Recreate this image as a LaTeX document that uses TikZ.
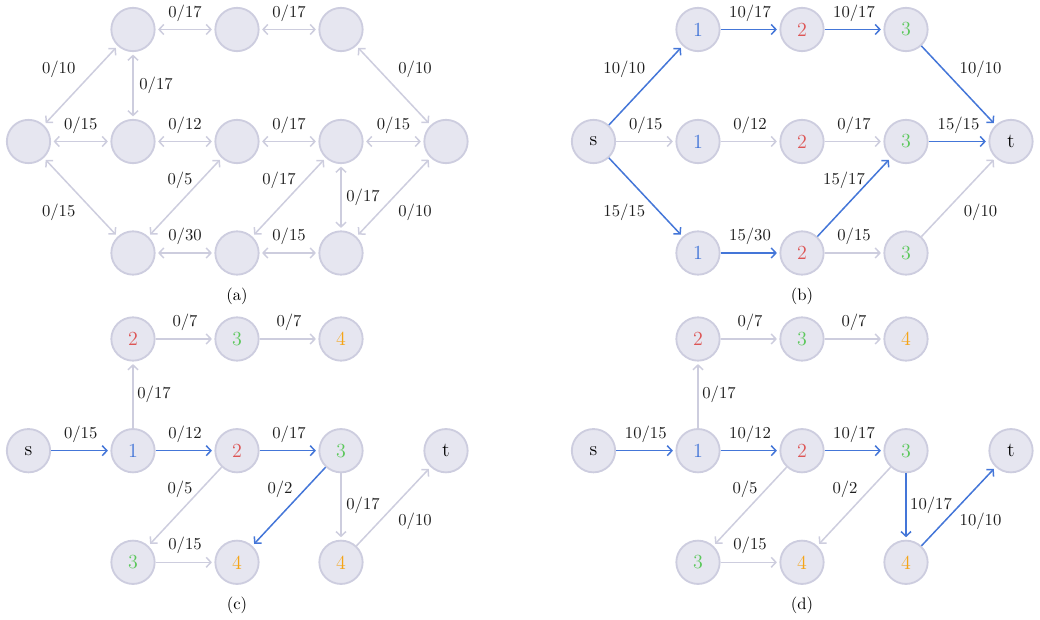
\documentclass[tikz,border=0pt]{standalone}
\usetikzlibrary{arrows.meta}
\definecolor{nodefill}{HTML}{E6E6F0}
\definecolor{nodedraw}{HTML}{CDCDDF}
\definecolor{edgegray}{HTML}{CDCDDE}
\definecolor{flowblue}{HTML}{4476D8}
\definecolor{numblue}{HTML}{4476D8}
\definecolor{numred}{HTML}{DD5555}
\definecolor{numgreen}{HTML}{5CC85C}
\definecolor{numorange}{HTML}{F5A415}
\definecolor{lbltext}{HTML}{1E1E1E}
\begin{document}
\begin{tikzpicture}[x=0.6pt,y=-0.6pt,
  vtx/.style={circle,draw=nodedraw,fill=nodefill,line width=1.1pt,minimum size=26pt,inner sep=0pt,font=\large},
  nb/.style={vtx,text=numblue},
  nr/.style={vtx,text=numred},
  ng/.style={vtx,text=numgreen},
  no/.style={vtx,text=numorange},
  >={Straight Barb[length=2.8pt,width=6pt]},
  gedge/.style={draw=edgegray,line width=0.9pt,shorten >=1.5pt},
  bedge/.style={draw=flowblue,line width=0.9pt,shorten >=1.5pt},
  biedge/.style={draw=edgegray,line width=0.9pt,<->,shorten >=1.5pt,shorten <=1.5pt},
  lbl/.style={font=\normalsize,text=lbltext,inner sep=0pt},
  captxt/.style={font=\normalsize,text=black}]
\useasboundingbox (0,0) rectangle (1040,620);

% ---------------- panel (a)
\node[vtx] (as) at (28.5,141.5) {};
\node[vtx] (a1t) at (133,29.5) {};
\node[vtx] (a2t) at (237,29.5) {};
\node[vtx] (a3t) at (341,29.5) {};
\node[vtx] (a1m) at (133,141.5) {};
\node[vtx] (a2m) at (237,141.5) {};
\node[vtx] (a3m) at (341,141.5) {};
\node[vtx] (at) at (446,141.5) {};
\node[vtx] (a1b) at (133,253) {};
\node[vtx] (a2b) at (237,253) {};
\node[vtx] (a3b) at (341,253) {};
\draw[biedge] (a1t) -- node[lbl,midway,shift={(0,-16.5)}] {0/17} (a2t);
\draw[biedge] (a2t) -- node[lbl,midway,shift={(0,-16.5)}] {0/17} (a3t);
\draw[biedge] (as) -- node[lbl,midway,shift={(-22,-16.5)}] {0/10} (a1t);
\draw[biedge] (a1t) -- node[lbl,midway,shift={(23,0)}] {0/17} (a1m);
\draw[biedge] (as) -- node[lbl,midway,shift={(0,-16.5)}] {0/15} (a1m);
\draw[biedge] (a1m) -- node[lbl,midway,shift={(0,-16.5)}] {0/12} (a2m);
\draw[biedge] (a2m) -- node[lbl,midway,shift={(0,-16.5)}] {0/17} (a3m);
\draw[biedge] (a3m) -- node[lbl,midway,shift={(0,-16.5)}] {0/15} (at);
\draw[biedge] (a3t) -- node[lbl,midway,shift={(21.5,-16.5)}] {0/10} (at);
\draw[biedge] (as) -- node[lbl,midway,shift={(-22,15)}] {0/15} (a1b);
\draw[biedge] (a1b) -- node[lbl,midway,shift={(-5,-17)}] {0/5} (a2m);
\draw[biedge] (a2b) -- node[lbl,midway,shift={(-10,-17)}] {0/17} (a3m);
\draw[biedge] (a3m) -- node[lbl,midway,shift={(22,0)}] {0/17} (a3b);
\draw[biedge] (a3b) -- node[lbl,midway,shift={(21.5,15)}] {0/10} (at);
\draw[biedge] (a1b) -- node[lbl,midway,shift={(0,-17)}] {0/30} (a2b);
\draw[biedge] (a2b) -- node[lbl,midway,shift={(0,-17)}] {0/15} (a3b);
\node[captxt] (capa) at (237,296) {(a)};

% ---------------- panel (b)
\node[vtx] (bs) at (593.5,141.5) {s};
\node[nb] (b1t) at (698,29.5) {1};
\node[nr] (b2t) at (802,29.5) {2};
\node[ng] (b3t) at (906,29.5) {3};
\node[nb] (b1m) at (698,141.5) {1};
\node[nr] (b2m) at (802,141.5) {2};
\node[ng] (b3m) at (906,141.5) {3};
\node[vtx] (bt) at (1011,141.5) {t};
\node[nb] (b1b) at (698,253) {1};
\node[nr] (b2b) at (802,253) {2};
\node[ng] (b3b) at (906,253) {3};
\draw[bedge,->] (bs) -- node[lbl,midway,shift={(-21.5,-16.5)}] {10/10} (b1t);
\draw[bedge,->] (b1t) -- node[lbl,midway,shift={(0,-16.5)}] {10/17} (b2t);
\draw[bedge,->] (b2t) -- node[lbl,midway,shift={(0,-16.5)}] {10/17} (b3t);
\draw[bedge,->] (b3t) -- node[lbl,midway,shift={(22,-16.5)}] {10/10} (bt);
\draw[gedge,->] (bs) -- node[lbl,midway,shift={(0,-16.5)}] {0/15} (b1m);
\draw[gedge,->] (b1m) -- node[lbl,midway,shift={(0,-16.5)}] {0/12} (b2m);
\draw[gedge,->] (b2m) -- node[lbl,midway,shift={(0,-16.5)}] {0/17} (b3m);
\draw[bedge,->] (b3m) -- node[lbl,midway,shift={(0,-16.5)}] {15/15} (bt);
\draw[bedge,->] (bs) -- node[lbl,midway,shift={(-21.5,15)}] {15/15} (b1b);
\draw[bedge,->] (b1b) -- node[lbl,midway,shift={(0,-17)}] {15/30} (b2b);
\draw[bedge,->] (b2b) -- node[lbl,midway,shift={(-10,-17)}] {15/17} (b3m);
\draw[gedge,->] (b2b) -- node[lbl,midway,shift={(0,-17)}] {0/15} (b3b);
\draw[gedge,->] (b3b) -- node[lbl,midway,shift={(22,15)}] {0/10} (bt);
\node[captxt] (capb) at (802,296) {(b)};

% ---------------- panel (c)
\node[vtx] (cs) at (28.5,450.7) {s};
\node[nb] (c1m) at (133,450.7) {1};
\node[nr] (c2m) at (237,450.7) {2};
\node[ng] (c3m) at (341,450.7) {3};
\node[vtx] (ct) at (446,450.7) {t};
\node[nr] (c2t) at (133,339) {2};
\node[ng] (c3t) at (237,339) {3};
\node[no] (c4t) at (341,339) {4};
\node[ng] (c3b) at (133,562.3) {3};
\node[no] (c4b) at (237,562.3) {4};
\node[no] (c4r) at (341,562.3) {4};
\draw[bedge,->] (cs) -- node[lbl,midway,shift={(0,-16.5)}] {0/15} (c1m);
\draw[bedge,->] (c1m) -- node[lbl,midway,shift={(0,-16.5)}] {0/12} (c2m);
\draw[bedge,->] (c2m) -- node[lbl,midway,shift={(0,-16.5)}] {0/17} (c3m);
\draw[gedge,->] (c1m) -- node[lbl,midway,shift={(21,-1)}] {0/17} (c2t);
\draw[gedge,->] (c2t) -- node[lbl,midway,shift={(0,-16.7)}] {0/7} (c3t);
\draw[gedge,->] (c3t) -- node[lbl,midway,shift={(0,-16.7)}] {0/7} (c4t);
\draw[gedge,->] (c2m) -- node[lbl,midway,shift={(-5,-17.5)}] {0/5} (c3b);
\draw[bedge,->] (c3m) -- node[lbl,midway,shift={(-9,-17.5)}] {0/2} (c4b);
\draw[gedge,->] (c3m) -- node[lbl,midway,shift={(22,-1.5)}] {0/17} (c4r);
\draw[gedge,->] (c4r) -- node[lbl,midway,shift={(21.5,14.5)}] {0/10} (ct);
\draw[gedge,->] (c3b) -- node[lbl,midway,shift={(0,-17)}] {0/15} (c4b);
\node[captxt] (capc) at (237,605.7) {(c)};

% ---------------- panel (d)
\node[vtx] (ds) at (593.5,450.7) {s};
\node[nb] (d1m) at (698,450.7) {1};
\node[nr] (d2m) at (802,450.7) {2};
\node[ng] (d3m) at (906,450.7) {3};
\node[vtx] (dt) at (1011,450.7) {t};
\node[nr] (d2t) at (698,339) {2};
\node[ng] (d3t) at (802,339) {3};
\node[no] (d4t) at (906,339) {4};
\node[ng] (d3b) at (698,562.3) {3};
\node[no] (d4b) at (802,562.3) {4};
\node[no] (d4r) at (906,562.3) {4};
\draw[bedge,->] (ds) -- node[lbl,midway,shift={(0,-16.5)}] {10/15} (d1m);
\draw[bedge,->] (d1m) -- node[lbl,midway,shift={(0,-16.5)}] {10/12} (d2m);
\draw[bedge,->] (d2m) -- node[lbl,midway,shift={(0,-16.5)}] {10/17} (d3m);
\draw[gedge,->] (d1m) -- node[lbl,midway,shift={(21,-1)}] {0/17} (d2t);
\draw[gedge,->] (d2t) -- node[lbl,midway,shift={(0,-16.7)}] {0/7} (d3t);
\draw[gedge,->] (d3t) -- node[lbl,midway,shift={(0,-16.7)}] {0/7} (d4t);
\draw[gedge,->] (d2m) -- node[lbl,midway,shift={(-5,-17.5)}] {0/5} (d3b);
\draw[gedge,->] (d3m) -- node[lbl,midway,shift={(-9,-17.5)}] {0/2} (d4b);
\draw[bedge,->] (d3m) -- node[lbl,midway,shift={(25,-1.5)}] {10/17} (d4r);
\draw[bedge,->] (d4r) -- node[lbl,midway,shift={(22,14.5)}] {10/10} (dt);
\draw[gedge,->] (d3b) -- node[lbl,midway,shift={(0,-17)}] {0/15} (d4b);
\node[captxt] (capd) at (802,605.7) {(d)};
\end{tikzpicture}
\end{document}
